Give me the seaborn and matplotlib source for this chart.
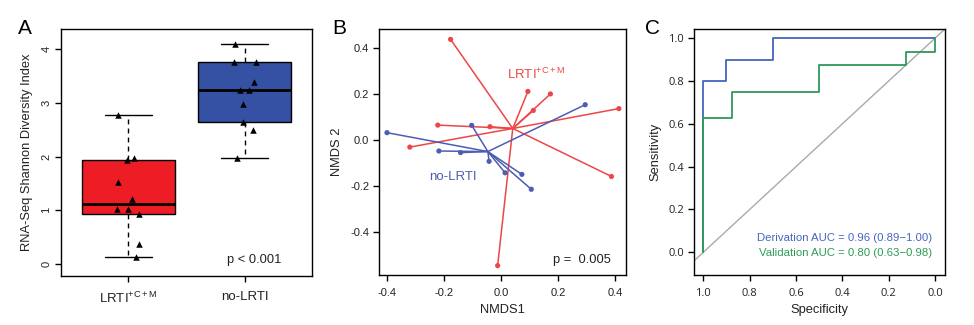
import numpy as np
import pandas as pd
import matplotlib
matplotlib.use("Agg")
import matplotlib.pyplot as plt
import seaborn as sns

# ---------------- data ----------------
groups = ["LRTI$^{+C+M}$", "no-LRTI"]
shannon_lrti = [2.77, 1.94, 1.97, 1.52, 1.21, 1.03, 1.03, 0.94, 0.38, 0.13]
shannon_lrti_jit = [-0.087, -0.014, 0.052, -0.092, 0.032, -0.098, -0.005, 0.090, 0.087, 0.067]
shannon_no = [4.09, 3.76, 3.76, 3.38, 3.23, 3.24, 2.97, 2.645, 2.50, 1.98]
shannon_no_jit = [-0.081, -0.090, 0.095, 0.080, -0.043, 0.040, -0.017, -0.012, 0.072, -0.064]

nmds_lrti_x = [-0.176, 0.095, 0.174, 0.114, 0.414, -0.221, -0.038, -0.319, 0.388, -0.011]
nmds_lrti_y = [0.439, 0.212, 0.201, 0.129, 0.137, 0.065, 0.058, -0.031, -0.159, -0.548]
nmds_no_x = [-0.399, -0.102, 0.296, -0.217, -0.141, -0.041, 0.015, 0.074, 0.107]
nmds_no_y = [0.032, 0.064, 0.154, -0.048, -0.055, -0.093, -0.143, -0.150, -0.215]

roc_der_spec = [1.0, 1.0, 0.9, 0.9, 0.7, 0.7, 0.0]
roc_der_sens = [0.0, 0.8, 0.8, 0.9, 0.9, 1.0, 1.0]
roc_val_spec = [1.0, 1.0, 0.875, 0.875, 0.5, 0.5, 0.125, 0.125, 0.0, 0.0]
roc_val_sens = [0.0, 0.625, 0.625, 0.75, 0.75, 0.875, 0.875, 0.9375, 0.9375, 1.0]

# ---------------- style ----------------
sns.set_theme(style="white")
plt.rcParams["font.family"] = ["Liberation Sans", "DejaVu Sans"]
plt.rcParams["mathtext.fontset"] = "custom"
plt.rcParams["mathtext.rm"] = "Liberation Sans"
plt.rcParams["mathtext.default"] = "regular"
plt.rcParams["axes.edgecolor"] = "black"
plt.rcParams["axes.linewidth"] = 1.0

RED_BOX = "#EE1C25"
BLUE_BOX = "#3451A3"
RED_L = "#EE4646"
BLUE_L = "#4C5DB2"
ROC_BLUE = "#4466BE"
ROC_GREEN = "#2E9A58"

fig = plt.figure(figsize=(9.74, 3.25), dpi=100)
axA = fig.add_axes([61/974, 1-276/325, 251/974, 247/325])
axB = fig.add_axes([379/974, 1-275/325, 247/974, 245.7/325])
axC = fig.add_axes([694/974, 1-275/325, 251/974, 246/325])

for ax in (axA, axB, axC):
    ax.tick_params(axis="both", which="both", direction="out", length=4, width=1.0,
                   color="black", labelsize=8, pad=3, labelcolor="#222222",
                   bottom=True, left=True, top=False, right=False)
    for s in ax.spines.values():
        s.set_visible(True)
        s.set_color("black")
        s.set_linewidth(1.0)

# ---------------- Panel A ----------------
def fivenum(v):
    v = np.sort(np.asarray(v, float))
    n = len(v)
    n4 = np.floor((n + 3) / 2) / 2
    d = np.array([1, n4, (n + 1) / 2, n + 1 - n4, n]) - 1
    return 0.5 * (v[np.floor(d).astype(int)] + v[np.ceil(d).astype(int)])

stats = []
for vals in (shannon_lrti, shannon_no):
    mn, q1, med, q3, mx = fivenum(vals)
    iqr = q3 - q1
    arr = np.asarray(vals)
    lo = arr[arr >= q1 - 1.5 * iqr].min()
    hi = arr[arr <= q3 + 1.5 * iqr].max()
    stats.append(dict(med=med, q1=q1, q3=q3, whislo=lo, whishi=hi, fliers=[]))

bp = axA.bxp(stats, positions=[1, 2], widths=0.8, capwidths=0.4, patch_artist=True,
             showfliers=False,
             boxprops=dict(edgecolor="black", linewidth=1.0),
             medianprops=dict(color="black", linewidth=2.0),
             whiskerprops=dict(color="black", linewidth=1.0, linestyle=(0, (3.5, 3))),
             capprops=dict(color="black", linewidth=1.0))
for patch, c in zip(bp["boxes"], [RED_BOX, BLUE_BOX]):
    patch.set_facecolor(c)

dfA = pd.DataFrame({
    "x": np.concatenate([1 + np.array(shannon_lrti_jit), 2 + np.array(shannon_no_jit)]),
    "y": shannon_lrti + shannon_no,
})
sns.scatterplot(data=dfA, x="x", y="y", ax=axA, marker="^", s=22, color="black",
                linewidth=0, zorder=5)
axA.set_xlim(0.42, 2.58)
axA.set_ylim(-0.22, 4.37)
axA.set_xticks([1, 2])
axA.set_xticklabels(groups, fontsize=9.5, color="#222222")
axA.set_yticks([0, 1, 2, 3, 4])
axA.set_yticklabels(["0", "1", "2", "3", "4"], rotation=90, va="center")
axA.set_xlabel("")
axA.set_ylabel("RNA-Seq Shannon Diversity Index", fontsize=9.3, color="#222222", labelpad=6)
axA.tick_params(axis="x", pad=7)
axA.text(1.846, 0.08, "p < 0.001", fontsize=9.3, ha="left", va="center", color="#222222")

# ---------------- Panel B ----------------
rows = []
for gname, xs, ys in (("LRTI", nmds_lrti_x, nmds_lrti_y),
                      ("no", nmds_no_x, nmds_no_y)):
    cx, cy = np.mean(xs), np.mean(ys)
    for i, (px, py) in enumerate(zip(xs, ys)):
        rows.append(dict(g=gname, seg=f"{gname}{i}", x=cx, y=cy, o=0))
        rows.append(dict(g=gname, seg=f"{gname}{i}", x=px, y=py, o=1))
dfB = pd.DataFrame(rows)
palB = {"LRTI": RED_L, "no": BLUE_L}
sns.lineplot(data=dfB, x="x", y="y", hue="g", units="seg", estimator=None, sort=False,
             palette=palB, linewidth=1.1, legend=False, ax=axB)
pts = dfB[dfB.o == 1]
sns.scatterplot(data=pts, x="x", y="y", hue="g", palette=palB, s=14, linewidth=0,
                legend=False, ax=axB, zorder=5)
axB.set_xlim(-0.427, 0.439)
axB.set_ylim(-0.589, 0.483)
axB.set_xticks([-0.4, -0.2, 0.0, 0.2, 0.4])
axB.set_xticklabels(["-0.4", "-0.2", "0.0", "0.2", "0.4"])
axB.set_yticks([0.4, 0.2, 0.0, -0.2, -0.4])
axB.set_yticklabels(["0.4", "0.2", "0.0", "-0.2", "-0.4"])
axB.set_xlabel("NMDS1", fontsize=9.3, color="#222222", labelpad=5)
axB.set_ylabel("NMDS 2", fontsize=9.3, color="#222222", labelpad=5)
axB.tick_params(axis="x", pad=5)
axB.text(0.022, 0.288, "LRTI$^{+C+M}$", color=RED_L, fontsize=9.5, ha="left", va="center")
axB.text(-0.252, -0.161, "no-LRTI", color=BLUE_L, fontsize=9.5, ha="left", va="center")
axB.text(0.182, -0.524, "p =  0.005", color="#222222", fontsize=9.3, ha="left", va="center")

# ---------------- Panel C ----------------
dfC = pd.concat([
    pd.DataFrame({"spec": roc_der_spec, "sens": roc_der_sens, "set": "Derivation"}),
    pd.DataFrame({"spec": roc_val_spec, "sens": roc_val_sens, "set": "Validation"}),
], ignore_index=True)
axC.axline((1, 0), (0, 1), color="#AAAAAA", linewidth=1.0, zorder=1)
sns.lineplot(data=dfC, x="spec", y="sens", hue="set", estimator=None, sort=False,
             palette={"Derivation": ROC_BLUE, "Validation": ROC_GREEN},
             linewidth=1.3, legend=False, ax=axC, zorder=3)
axC.set_xlim(1.04, -0.043)
axC.set_ylim(-0.106, 1.043)
ticksC = [1.0, 0.8, 0.6, 0.4, 0.2, 0.0]
axC.set_xticks(ticksC)
axC.set_xticklabels([f"{t:.1f}" for t in ticksC], family=["Open Sans", "DejaVu Sans"])
axC.set_yticks(ticksC[::-1])
axC.set_yticklabels([f"{t:.1f}" for t in ticksC[::-1]], family=["Open Sans", "DejaVu Sans"])
axC.set_xlabel("Specificity", fontsize=9.3, color="#222222", labelpad=4)
axC.set_ylabel("Sensitivity", fontsize=9.3, color="#222222", labelpad=5)
axC.tick_params(axis="x", pad=5)
axC.text(0.014, 0.068, "Derivation AUC = 0.96 (0.89\u22121.00)", color=ROC_BLUE,
         fontsize=8.2, ha="right", va="center")
axC.text(0.014, -0.005, "Validation AUC = 0.80 (0.63\u22120.98)", color=ROC_GREEN,
         fontsize=8.2, ha="right", va="center")

# panel letters
for lab, x in (("A", 25), ("B", 339), ("C", 653)):
    fig.text(x/974, 1-28/325, lab, fontsize=15, ha="center", va="center", color="black")

fig.savefig("out.png", dpi=100)
